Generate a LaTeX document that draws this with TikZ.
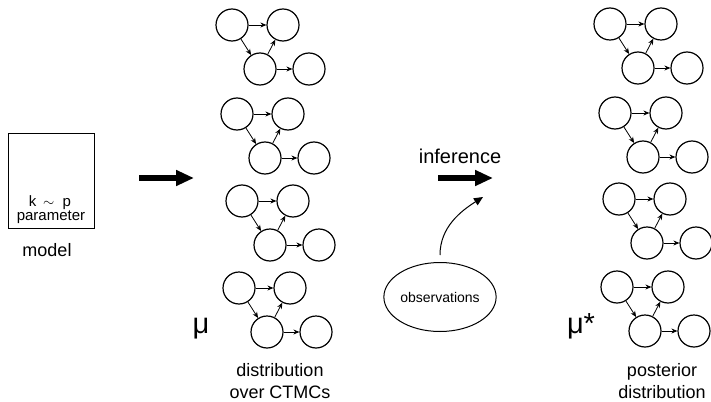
\documentclass[tikz,border=0pt]{standalone}
\usepackage{fontspec}
\setmainfont{Liberation Sans}
\usetikzlibrary{positioning,arrows.meta,shapes.geometric}

\tikzset{
  state/.style={circle,draw,line width=1.2pt,minimum size=32pt,inner sep=0pt},
  trans/.style={-{Stealth[length=6pt,width=5pt]},line width=0.8pt},
  bigarrow/.style={line width=6pt,-{Triangle[length=18pt,width=15pt]}},
  lbl/.style={font=\fontsize{18}{22}\selectfont,align=center,inner sep=0pt},
  greek/.style={font=\fontsize{29}{30}\selectfont,inner sep=0pt}
}

\begin{document}
\begin{tikzpicture}[x=1pt,y=-1pt]
  \useasboundingbox (0,0) rectangle (711,401);

  % model box
  \node[draw,line width=1pt,minimum width=86pt,minimum height=95pt] (box) at (51,180.5) {};
  \node[font=\fontsize{15}{16}\selectfont,inner sep=0pt,anchor=base] (kp) at (50,206) {k~\,$\sim$~~p};
  \node[font=\fontsize{15}{17}\selectfont,inner sep=0pt,anchor=base] (param) at (51,220) {parameter};
  \node[lbl,anchor=base] (model) at (47,256) {model};

  % distribution over CTMCs
  \foreach \i/\x/\y in {1/232/25,2/237/114,3/242/201,4/239/288} {
    \node[state] (m\i a) at (\x,\y) {};
    \node[state] (m\i b) at (\x+51,\y) {};
    \node[state] (m\i c) at (\x+28,\y+44) {};
    \node[state] (m\i d) at (\x+77,\y+44) {};
    \draw[trans] (m\i a) -- (m\i b);
    \draw[trans] (m\i a) -- (m\i c);
    \draw[trans] (m\i c) -- (m\i b);
    \draw[trans] (m\i c) -- (m\i d);
  }
  \node[greek,anchor=base] (mu) at (201,333) {μ};
  \node[lbl,anchor=north] (dist) at (280,363) {distribution\\over CTMCs};

  % posterior
  \foreach \i/\x/\y in {1/610/24,2/615/113,3/619/199,4/617/287} {
    \node[state] (p\i a) at (\x,\y) {};
    \node[state] (p\i b) at (\x+51,\y) {};
    \node[state] (p\i c) at (\x+28,\y+44) {};
    \node[state] (p\i d) at (\x+77,\y+44) {};
    \draw[trans] (p\i a) -- (p\i b);
    \draw[trans] (p\i a) -- (p\i c);
    \draw[trans] (p\i c) -- (p\i b);
    \draw[trans] (p\i c) -- (p\i d);
  }
  \node[greek,anchor=base] (mustar) at (581,333) {μ*};
  \node[lbl,anchor=north] (post) at (662,363) {posterior\\distribution};

  % arrows
  \coordinate (s1) at (139,178);
  \coordinate (e1) at (194,178);
  \draw[bigarrow] (s1) -- (e1);
  \coordinate (s2) at (438,178);
  \coordinate (e2) at (493,178);
  \draw[bigarrow] (s2) -- (e2);
  \node[font=\fontsize{20}{22}\selectfont,inner sep=0pt,anchor=base] (inf) at (460,163) {inference};

  % observations
  \node[draw,ellipse,line width=1pt,minimum width=89pt,minimum height=69pt,inner sep=0pt,
        font=\fontsize{14}{16}\selectfont] (obs) at (440,297) {observations};
  \coordinate (tgt) at (483,197);
  \draw[line width=1pt,-{Triangle[length=9pt,width=8pt]},shorten <=7pt]
    (obs.north) .. controls +(0,-35) and +(-22,14) .. (tgt);
\end{tikzpicture}
\end{document}
